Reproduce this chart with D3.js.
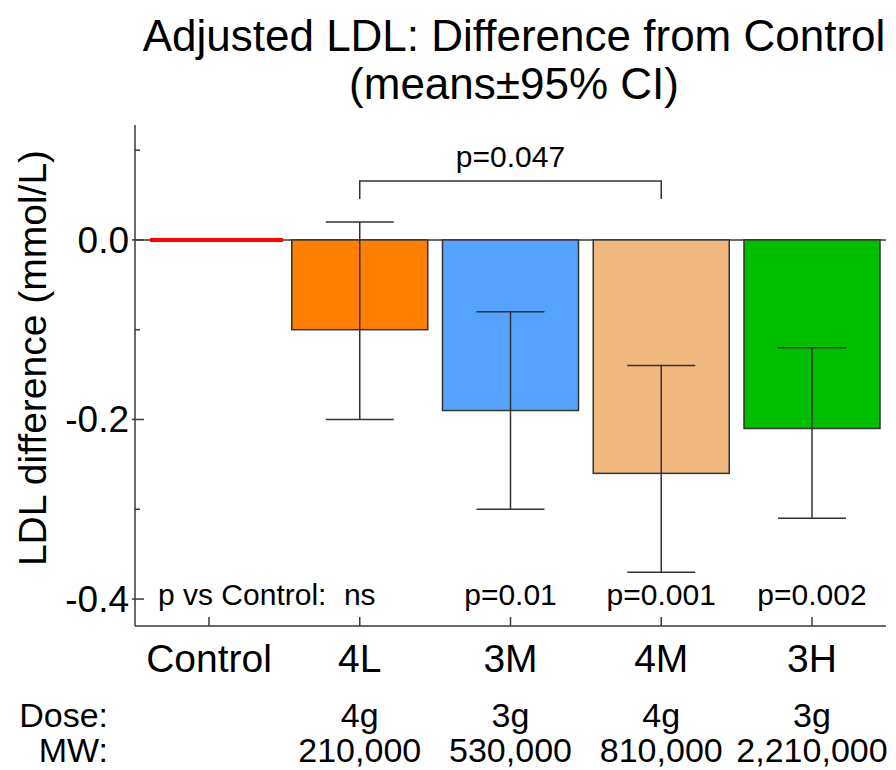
<!DOCTYPE html>
<html>
<head>
<meta charset="utf-8">
<script src="https://cdn.jsdelivr.net/npm/d3@7"></script>
<style>
  html, body { margin: 0; padding: 0; background: #fff; }
  svg { display: block; font-family: "Liberation Sans", Arial, sans-serif; }
</style>
</head>
<body>
<svg id="chart" width="896" height="770"></svg>
<script>
// Adjusted LDL change vs control, means with 95% confidence intervals
const categories = ["Control", "4L", "3M", "4M", "3H"];
const means      = [0, -0.10, -0.19, -0.26, -0.21];
const ciLow      = [null, -0.20, -0.30, -0.37, -0.31];
const ciHigh     = [null, 0.02, -0.08, -0.14, -0.12];
const barColors  = ["#ff0000", "#ff8000", "#55a2ff", "#f0b77e", "#00bf00"];
const pLabels    = ["", "ns", "p=0.01", "p=0.001", "p=0.002"];
const doses      = ["", "4g", "3g", "4g", "3g"];
const mws        = ["", "210,000", "530,000", "810,000", "2,210,000"];
const yMajorTicks = [0.0, -0.2, -0.4];
const yMinorTicks = [0.1, -0.1, -0.3];
const bracket = { from: "4L", to: "4M", label: "p=0.047" };

const svg = d3.select("#chart");
const axisColor = "#3a3a3a";

const plot = { left: 135, right: 886, top: 125, bottom: 626 };

const y = d3.scaleLinear().domain([-0.43, 0.128]).range([plot.bottom, plot.top]);
const x = d3.scalePoint().domain(categories).range([209, 812]);
const barW = 136;

// Title
const title = svg.append("g").attr("text-anchor", "middle").attr("fill", "#000")
  .style("font-size", "44px");
title.append("text").attr("x", 514).attr("y", 51).text("Adjusted LDL: Difference from Control");
title.append("text").attr("x", 514).attr("y", 99).text("(means\u00b195% CI)");

// Zero reference line across the plot
svg.append("line")
  .attr("x1", plot.left).attr("x2", plot.right)
  .attr("y1", y(0)).attr("y2", y(0))
  .attr("stroke", axisColor).attr("stroke-width", 1.5);

// Treatment bars
const treat = categories.map((c, i) => ({ c, i, m: means[i], lo: ciLow[i], hi: ciHigh[i], col: barColors[i] }))
  .filter(d => d.i > 0);

svg.append("g").selectAll("rect").data(treat).join("rect")
  .attr("x", d => x(d.c) - barW / 2)
  .attr("width", barW)
  .attr("y", d => y(Math.max(0, d.m)))
  .attr("height", d => Math.abs(y(d.m) - y(0)))
  .attr("fill", d => d.col)
  .attr("stroke", "#333").attr("stroke-width", 1.5);

// Control shown as a line at its mean
svg.append("line")
  .attr("x1", x("Control") - 59).attr("x2", x("Control") + 74)
  .attr("y1", y(means[0])).attr("y2", y(means[0]))
  .attr("stroke", barColors[0]).attr("stroke-width", 4);

// Error bars
const capW = 68;
const eb = svg.append("g").attr("stroke", "#333").attr("stroke-width", 1.5).attr("fill", "none");
treat.forEach(d => {
  const cx = x(d.c);
  eb.append("line").attr("x1", cx).attr("x2", cx).attr("y1", y(d.hi)).attr("y2", y(d.lo));
  eb.append("line").attr("x1", cx - capW / 2).attr("x2", cx + capW / 2).attr("y1", y(d.hi)).attr("y2", y(d.hi));
  eb.append("line").attr("x1", cx - capW / 2).attr("x2", cx + capW / 2).attr("y1", y(d.lo)).attr("y2", y(d.lo));
});

// Comparison bracket
const bx1 = x(bracket.from), bx2 = x(bracket.to);
const bTop = 181, bDrop = 18;
svg.append("path")
  .attr("d", `M${bx1},${bTop + bDrop}V${bTop}H${bx2}V${bTop + bDrop}`)
  .attr("fill", "none").attr("stroke", "#333").attr("stroke-width", 1.5);
svg.append("text").attr("x", (bx1 + bx2) / 2).attr("y", 167)
  .attr("text-anchor", "middle").style("font-size", "30px").text(bracket.label);

// Y axis
const yAxis = svg.append("g");
yAxis.append("line").attr("x1", plot.left).attr("x2", plot.left)
  .attr("y1", plot.top).attr("y2", plot.bottom)
  .attr("stroke", axisColor).attr("stroke-width", 1.5);
yAxis.selectAll(".maj").data(yMajorTicks).join("line")
  .attr("x1", plot.left - 3).attr("x2", plot.left + 9)
  .attr("y1", d => y(d)).attr("y2", d => y(d))
  .attr("stroke", axisColor).attr("stroke-width", 1.5);
yAxis.selectAll(".min").data(yMinorTicks).join("line")
  .attr("x1", plot.left).attr("x2", plot.left + 5)
  .attr("y1", d => y(d)).attr("y2", d => y(d))
  .attr("stroke", axisColor).attr("stroke-width", 1.5);
yAxis.selectAll("text").data(yMajorTicks).join("text")
  .attr("x", plot.left - 6).attr("y", d => y(d) + 13)
  .attr("text-anchor", "end").style("font-size", "37px")
  .text(d => d3.format(".1f")(d).replace("\u2212", "-"));

svg.append("text")
  .attr("transform", `translate(46,358) rotate(-90)`)
  .attr("text-anchor", "middle").style("font-size", "39px")
  .text("LDL difference (mmol/L)");

// X axis
const xAxis = svg.append("g");
xAxis.append("line").attr("x1", plot.left).attr("x2", plot.right)
  .attr("y1", plot.bottom).attr("y2", plot.bottom)
  .attr("stroke", axisColor).attr("stroke-width", 1.5);
xAxis.selectAll(".tick").data(categories).join("line")
  .attr("x1", d => x(d)).attr("x2", d => x(d))
  .attr("y1", plot.bottom).attr("y2", plot.bottom - 9)
  .attr("stroke", axisColor).attr("stroke-width", 1.5);
xAxis.selectAll("text").data(categories).join("text")
  .attr("x", d => x(d)).attr("y", 672)
  .attr("text-anchor", "middle").style("font-size", "39px")
  .text(d => d);

// p-values vs control
svg.append("text").attr("x", 158).attr("y", 605).style("font-size", "30px").text("p vs Control:");
svg.append("g").selectAll("text").data(categories.slice(1)).join("text")
  .attr("x", d => x(d)).attr("y", 605).attr("text-anchor", "middle")
  .style("font-size", "30px")
  .text(d => pLabels[categories.indexOf(d)]);

// Dose and molecular weight rows
svg.append("text").attr("x", 108).attr("y", 727).attr("text-anchor", "end")
  .style("font-size", "34px").text("Dose:");
svg.append("text").attr("x", 108).attr("y", 762).attr("text-anchor", "end")
  .style("font-size", "34px").text("MW:");
svg.append("g").selectAll("text").data(categories.slice(1)).join("text")
  .attr("x", d => x(d)).attr("y", 727).attr("text-anchor", "middle")
  .style("font-size", "34px").text(d => doses[categories.indexOf(d)]);
svg.append("g").selectAll("text").data(categories.slice(1)).join("text")
  .attr("x", d => x(d)).attr("y", 762).attr("text-anchor", "middle")
  .style("font-size", "34px").text(d => mws[categories.indexOf(d)]);
</script>
</body>
</html>
